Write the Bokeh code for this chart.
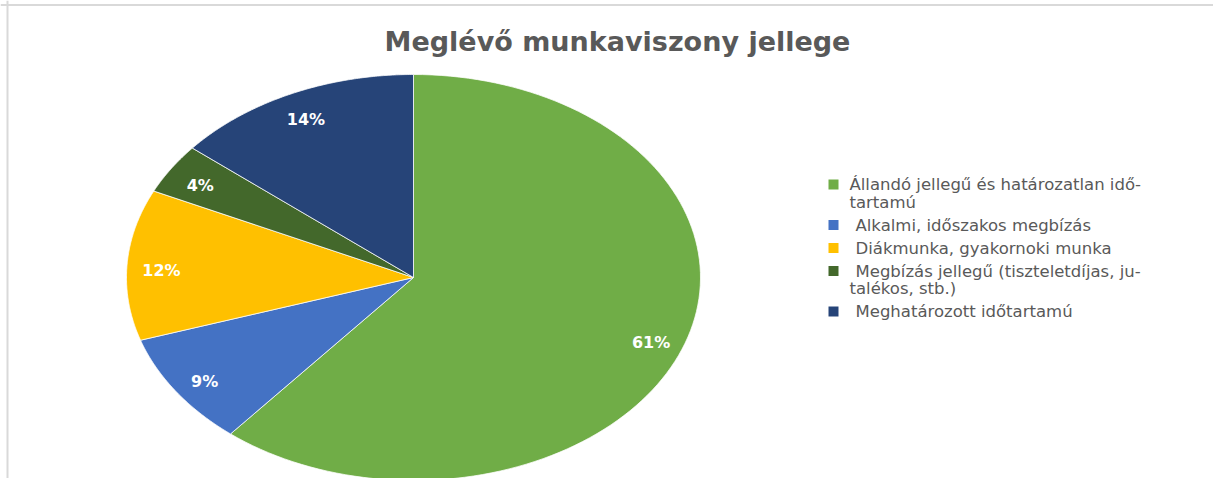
import numpy as np
from bokeh.plotting import figure
from bokeh.models import ColumnDataSource, Span
from bokeh.core.properties import value
from bokeh.embed import file_html
from bokeh.resources import INLINE

# ---- data ----
title = "Meglévő munkaviszony jellege"
categories = [
    "Állandó jellegű és határozatlan idő-\ntartamú",
    "Alkalmi, időszakos megbízás",
    "Diákmunka, gyakornoki munka",
    "Megbízás jellegű (tiszteletdíjas, ju-\ntalékos, stb.)",
    "Meghatározott időtartamú",
]
shares = [61, 9, 12, 4, 14]
pct_labels = ["61%", "9%", "12%", "4%", "14%"]
colors = ["#70AD47", "#4472C4", "#FFC000", "#43682B", "#264478"]

# ---- layout (figure pixels) ----
W, H = 1213, 478
OX, OY = 0, 0          # page offset of the figure
CX, CY = 413, 277      # pie centre, page px
RX, RY = 287, 203      # ellipse radii in px

def px(x, y):
    """page pixel -> data coordinates"""
    return (x - CX) / RX, (CY - y) / RY

x0, y1 = px(OX, OY)
x1, y0 = px(OX + W, OY + H)
p = figure(width=W, height=H,
           x_range=(x0, x1), y_range=(y0, y1),
           x_axis_type=None, y_axis_type=None,
           output_backend="svg", toolbar_location=None,
           min_border=0)
p.grid.visible = False
p.outline_line_color = None
p.background_fill_color = "white"

# chart frame (top & left edges)
p.add_layout(Span(location=px(0, 4.5)[1], dimension="width", line_color="#d9d9d9", line_width=2))
p.add_layout(Span(location=px(7, 0)[0], dimension="height", line_color="#d9d9d9", line_width=2))

# ---- pie slices as elliptical patches ----
fr = np.array(shares, dtype=float) / sum(shares)
cum = np.concatenate([[0], np.cumsum(fr)])
xs, ys, lx, ly = [], [], [], []
for i in range(len(shares)):
    t = np.pi / 2 - 2 * np.pi * np.linspace(cum[i], cum[i + 1], 120)
    xs.append(np.concatenate([[0], np.cos(t)]).tolist())
    ys.append(np.concatenate([[0], np.sin(t)]).tolist())
    tm = np.pi / 2 - 2 * np.pi * (cum[i] + cum[i + 1]) / 2
    lx.append(0.88 * np.cos(tm))
    ly.append(0.88 * np.sin(tm) - 0.02)

src = ColumnDataSource(dict(xs=xs, ys=ys, color=colors, cat=categories))
p.patches("xs", "ys", fill_color="color", line_color="white", line_width=0.75, source=src)

p.text(x=lx, y=ly, text=pct_labels, text_color="white",
       text_font=value("DejaVu Sans"), text_font_style="bold", text_font_size="16px",
       text_align="center", text_baseline="middle")

# ---- title ----
tx, ty = px(617, 41)
p.text(x=[tx], y=[ty], text=[title], text_color="#595959",
       text_font=value("DejaVu Sans"), text_font_style="bold", text_font_size="27px",
       text_align="center", text_baseline="middle")

# ---- legend ----
y = 184.0
mx, my, tx_, ty_, tt = [], [], [], [], []
for i, cat in enumerate(categories):
    lines = cat.split("\n")
    sx, sy = px(833, y)
    mx.append(sx); my.append(sy)
    for j, ln in enumerate(lines):
        a, b = px(849 if (i == 0 or j > 0) else 855, y)
        tx_.append(a); ty_.append(b); tt.append(ln)
        y += 17.5
    y += 5.5
p.scatter(x=mx, y=my, marker="square", size=10, fill_color=colors, line_color=None)
p.text(x=tx_, y=ty_, text=tt, text_color="#595959",
       text_font=value("DejaVu Sans"), text_font_size="16.5px",
       text_align="left", text_baseline="middle")

open("out.html", "w").write(file_html(p, INLINE))
